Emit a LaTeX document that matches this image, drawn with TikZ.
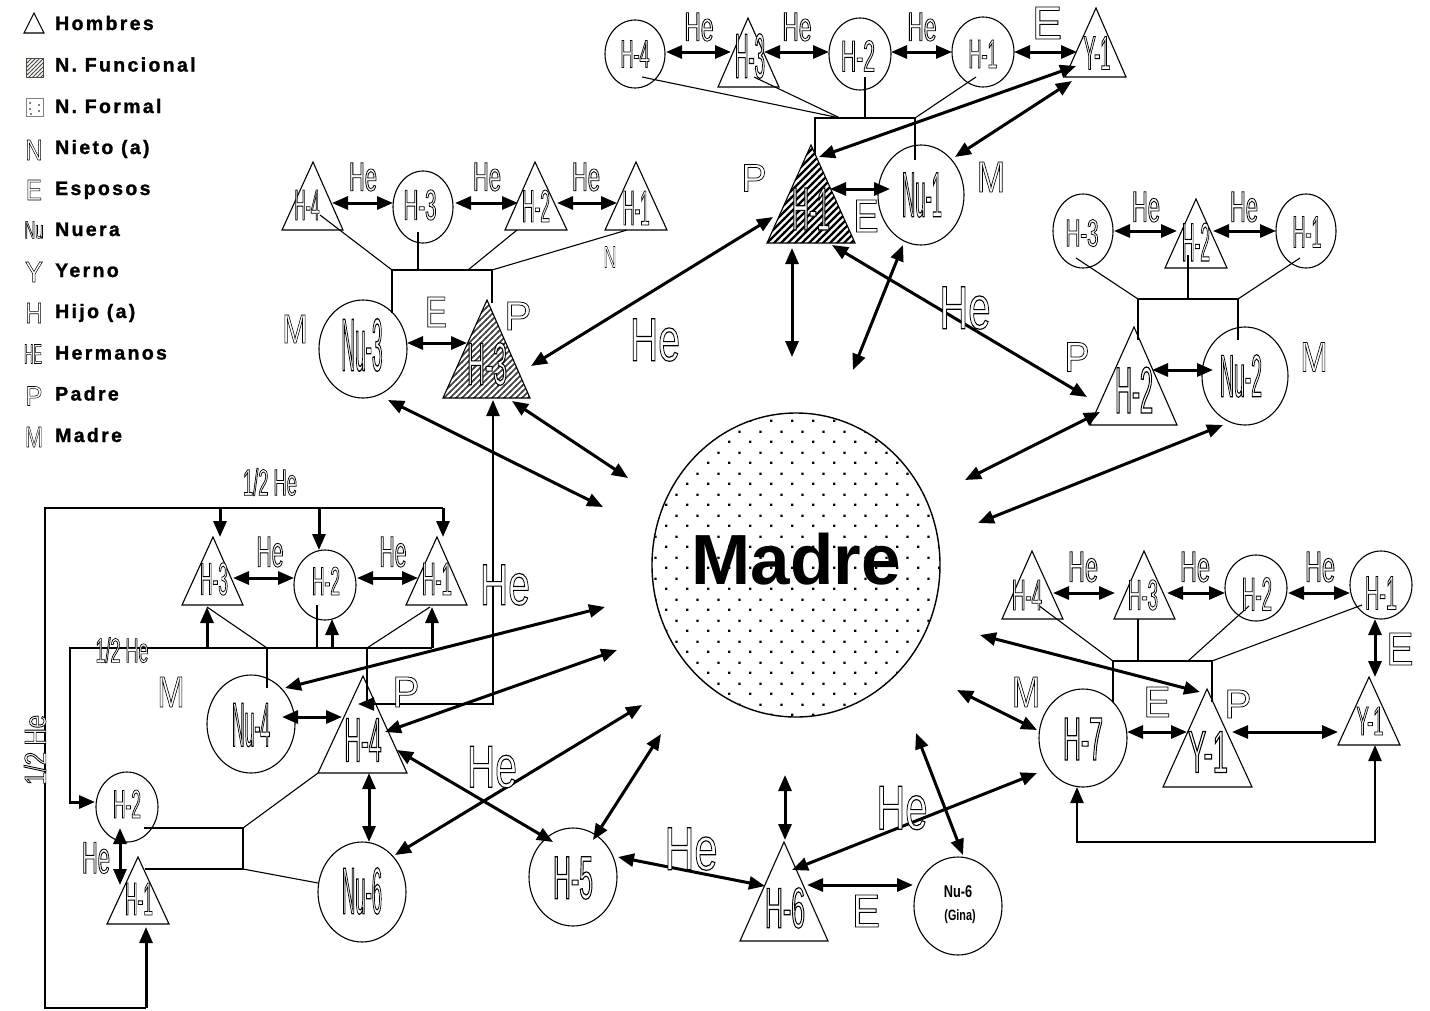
\documentclass[tikz,border=0pt]{standalone}
\usepackage{fontspec}
\usepackage{graphicx}
\setmainfont{Liberation Sans}
\newfontfamily\nf[FakeStretch=0.5]{Liberation Sans}
\newfontfamily\lf{Liberation Sans}
\newfontfamily\legf[LetterSpace=12, FakeBold=1.3]{Liberation Sans Bold}
\usetikzlibrary{arrows.meta,shapes.geometric,patterns}

\newcommand\outl[1]{\special{pdf:literal direct 2 Tr 1 g 0.75 w}#1\special{pdf:literal direct 0 Tr 0 g}}
\newcommand\nt[3]{\resizebox{#1pt}{#2pt}{\nf\fontsize{40}{40}\selectfont\outl{#3}}}
\newcommand\lt[3]{\resizebox{#1pt}{#2pt}{\lf\fontsize{40}{40}\selectfont\outl{#3}}}
\newcommand\conn[5][dar]{\coordinate (#2) at (#3);\coordinate (#4) at (#5);\draw[#1] (#2) -- (#4);}

\pgfdeclarepatternformonly{hatchA}{\pgfqpoint{-1pt}{-1pt}}{\pgfqpoint{8pt}{8pt}}{\pgfqpoint{7pt}{7pt}}{\pgfsetlinewidth{2.2pt}\pgfpathmoveto{\pgfqpoint{-1pt}{-1pt}}\pgfpathlineto{\pgfqpoint{8pt}{8pt}}\pgfusepath{stroke}}
\pgfdeclarepatternformonly{hatchB}{\pgfqpoint{-1pt}{-1pt}}{\pgfqpoint{7pt}{7pt}}{\pgfqpoint{6pt}{6pt}}{\pgfsetlinewidth{1.5pt}\pgfpathmoveto{\pgfqpoint{-1pt}{-1pt}}\pgfpathlineto{\pgfqpoint{7pt}{7pt}}\pgfusepath{stroke}}
\pgfdeclarepatternformonly{hatchC}{\pgfqpoint{-1pt}{-1pt}}{\pgfqpoint{5pt}{5pt}}{\pgfqpoint{4pt}{4pt}}{\pgfsetlinewidth{0.9pt}\pgfpathmoveto{\pgfqpoint{-1pt}{-1pt}}\pgfpathlineto{\pgfqpoint{5pt}{5pt}}\pgfusepath{stroke}}
\pgfdeclarepatternformonly{mdots}{\pgfqpoint{0pt}{0pt}}{\pgfqpoint{20.8pt}{21pt}}{\pgfqpoint{20.8pt}{21pt}}{\pgfpathrectangle{\pgfqpoint{0pt}{0pt}}{\pgfqpoint{2.4pt}{2.4pt}}\pgfpathrectangle{\pgfqpoint{10.4pt}{10.5pt}}{\pgfqpoint{2.4pt}{2.4pt}}\pgfusepath{fill}}

\tikzset{
  thn/.style={line width=1.1pt},
  brk/.style={line width=1.5pt},
  shp/.style={draw, line width=1.1pt},
  ell/.style={ellipse, draw, line width=1.1pt, inner sep=0pt},
  tx/.style={inner sep=0pt},
  dar/.style={line width=3pt, {Triangle[length=16pt,width=13pt]}-{Triangle[length=16pt,width=13pt]}},
  sar/.style={line width=3pt, -{Triangle[length=16pt,width=13pt]}},
  legt/.style={anchor=base west, inner sep=0pt, font=\legf\fontsize{19.5}{19.5}\selectfont}
}

\begin{document}
\begin{tikzpicture}[x=1pt,y=-1pt]
\fill[white] (0,0) rectangle (1430,1010);
\useasboundingbox (0,0) rectangle (1430,1010);

% ---------------- legend
\draw[shp] (24,33) -- (34,13) -- (44,33) -- cycle;
\draw[line width=0.8pt, draw=black!60!olive, pattern=hatchC, pattern color=black!70] (26,58) rectangle (43,77);
\draw[line width=0.6pt, draw=black!50] (26,98) rectangle (43,116);
\foreach \p in {(30,103),(39,105),(30,109),(39,111),(31,114)} \fill \p circle (0.9);
\node[tx] (lgN) at (34,150) {\lt{17}{20}{N}};
\node[tx] (lgE) at (34,190) {\lt{16}{20}{E}};
\node[tx] (lgNu) at (34,230) {\nt{19}{17}{Nu}};
\node[tx] (lgY) at (34,272) {\lt{18}{20}{Y}};
\node[tx] (lgH) at (34,313) {\lt{17}{20}{H}};
\node[tx] (lgHE) at (33,354) {\nt{18}{19}{HE}};
\node[tx] (lgP) at (34,396) {\lt{17}{19}{P}};
\node[tx] (lgM) at (34,437) {\lt{18}{20}{M}};
\node[legt] (l1) at (55,30) {Hombres};
\node[legt] (l2) at (55,71.5) {N. Funcional};
\node[legt] (l3) at (55,113) {N. Formal};
\node[legt] (l4) at (55,154) {Nieto (a)};
\node[legt] (l5) at (55,195) {Esposos};
\node[legt] (l6) at (55,236) {Nuera};
\node[legt] (l7) at (55,277) {Yerno};
\node[legt] (l8) at (55,318) {Hijo (a)};
\node[legt] (l9) at (55,359.5) {Hermanos};
\node[legt] (l10) at (55,400.5) {Padre};
\node[legt] (l11) at (55,442) {Madre};

% ---------------- Madre
\node[ell, line width=1.4pt, minimum width=288pt, minimum height=304pt, pattern=mdots] (madre) at (796,565) {};
\node[tx] (madret) at (796,559) {\fontsize{71}{71}\selectfont\bfseries Madre};

% ---------------- top cluster
\node[ell, minimum width=60pt, minimum height=68pt] (tH4) at (635,54) {};
\draw[shp] (718,87) -- (748,18) -- (779,87) -- cycle;
\node[ell, minimum width=62pt, minimum height=72pt] (tH2) at (860,54) {};
\node[ell, minimum width=62pt, minimum height=70pt] (tH1) at (983,52) {};
\draw[shp] (1065,77) -- (1096,8) -- (1126,77) -- cycle;
\draw[thn] (642,77) -- (840,118);
\draw[thn] (754,77) -- (840,118);
\draw[thn] (865,77) -- (865,118);
\draw[thn] (976,77) -- (915,118);
\draw[thn] (815,155) -- (815,118) -- (915,118) -- (915,160);
\draw[shp, pattern=hatchA] (767,243) -- (811,145) -- (855,243) -- cycle;
\node[ell, minimum width=86pt, minimum height=100pt] (tNu1) at (921,195) {};
\conn{a1s}{666,52}{a1e}{731,52}
\conn{a2s}{764,52}{a2e}{829,52}
\conn{a3s}{891,52}{a3e}{952,52}
\conn{a4s}{1014,52}{a4e}{1077,52}
\conn{a5s}{830,189}{a5e}{890,189}
\conn{a6s}{1076,66}{a6e}{819,157}
\conn{a7s}{1072,81}{a7e}{955,157}
\conn{a8s}{773,217}{a8e}{531,366}
\conn{a9s}{792,248}{a9e}{792,357}
\conn{a10s}{903,245}{a10e}{853,370}
\conn{a11s}{832,245}{a11e}{1087,397}
\node[tx] (tH4t) at (635,54) {\nt{29}{27}{H-4}};
\node[tx] (tH3t) at (750,56) {\nt{30}{44}{H-3}};
\node[tx] (tH2t) at (858,56) {\nt{34}{31}{H-2}};
\node[tx] (tH1t) at (983,54) {\nt{29}{28}{H-1}};
\node[tx] (tY1t) at (1097,53) {\nt{27}{33}{Y-1}};
\node[tx] (tHe1) at (699,27) {\nt{29}{28}{He}};
\node[tx] (tHe2) at (797,27) {\nt{29}{28}{He}};
\node[tx] (tHe3) at (922,27) {\nt{29}{28}{He}};
\node[tx] (tE1) at (1047,23) {\lt{30}{32}{E}};
\node[tx] (hH1t) at (811,209) {\nt{38}{42}{H-1}};
\node[tx] (tNu1t) at (922,195) {\nt{40}{44}{Nu-1}};
\node[tx] (tP) at (754,178) {\lt{25}{27}{P}};
\node[tx] (tM) at (991,177) {\lt{28}{30}{M}};
\node[tx] (tE2) at (866,216) {\lt{25}{32}{E}};
\node[tx] (bigHe1) at (655,340) {\lt{50}{42}{He}};
\node[tx] (bigHe2) at (965,308) {\lt{51}{42}{He}};

% ---------------- left upper cluster
\draw[shp] (282,230) -- (313,162) -- (343,230) -- cycle;
\node[ell, minimum width=60pt, minimum height=72pt] (lH3) at (423,207) {};
\draw[shp] (505,230) -- (535,162) -- (567,230) -- cycle;
\draw[shp] (605,230) -- (636,162) -- (667,230) -- cycle;
\draw[thn] (320,215) -- (392,270);
\draw[thn] (418,232) -- (418,270);
\draw[thn] (517,230) -- (468,270);
\draw[thn] (627,230) -- (492,270);
\draw[thn] (392,313) -- (392,270) -- (492,270) -- (492,303);
\node[ell, minimum width=88pt, minimum height=98pt] (lNu3) at (363,349) {};
\draw[shp, pattern=hatchB, pattern color=black!75] (443,398) -- (487,300) -- (530,398) -- cycle;
\conn{c1s}{332,203}{c1e}{393,203}
\conn{c2s}{455,203}{c2e}{518,203}
\conn{c3s}{557,203}{c3e}{617,203}
\conn{c4s}{407,343}{c4e}{467,343}
\conn{c5s}{388,400}{c5e}{603,507}
\conn{c6s}{512,401}{c6e}{628,478}
\coordinate (c7s) at (493,400);
\coordinate (c7m) at (493,704);
\coordinate (c7e) at (358,704);
\draw[dar, line width=2.4pt] (c7s) -- (c7m) -- (c7e);
\node[tx] (lH4t) at (307,205) {\nt{25}{30}{H-4}};
\node[tx] (lH3t) at (420,205) {\nt{33}{30}{H-3}};
\node[tx] (lH2t) at (536,206) {\nt{28}{32}{H-2}};
\node[tx] (lH1t) at (636,208) {\nt{27}{34}{H-1}};
\node[tx] (lHe1) at (363,177) {\nt{28}{28}{He}};
\node[tx] (lHe2) at (487,177) {\nt{28}{28}{He}};
\node[tx] (lHe3) at (586,177) {\nt{28}{28}{He}};
\node[tx] (lN) at (610,257) {\lt{13}{21}{N}};
\node[tx] (lNu3t) at (362,345) {\nt{41}{52}{Nu-3}};
\node[tx] (hH3t) at (487,364) {\nt{40}{42}{H-3}};
\node[tx] (lM) at (295,329) {\lt{25}{28}{M}};
\node[tx] (lE) at (436,312) {\lt{22}{30}{E}};
\node[tx] (lP) at (518,316) {\lt{27}{28}{P}};

% ---------------- lower left cluster
\draw[brk] (146,1008) -- (45,1008) -- (45,508) -- (443,508);
\conn[sar]{b1s}{220,508}{b1e}{220,537}
\conn[sar]{b2s}{319,508}{b2e}{319,550}
\conn[sar]{b3s}{443,508}{b3e}{443,537}
\conn[sar]{b4s}{146,1008}{b4e}{146,927}
\draw[brk] (70,802) -- (70,648) -- (432,648);
\conn[sar]{b5s}{69,802}{b5e}{95,802}
\conn[sar]{b6s}{207,648}{b6e}{207,607}
\conn[sar]{b7s}{332,648}{b7e}{332,619}
\conn[sar]{b8s}{432,648}{b8e}{432,607}
\draw[thn] (207,607) -- (267,648);
\draw[thn] (317,605) -- (317,648);
\draw[thn] (430,607) -- (367,648);
\draw[thn] (267,648) -- (267,688);
\draw[thn] (367,648) -- (367,707);
\draw[shp] (182,605) -- (213,537) -- (243,605) -- cycle;
\node[ell, minimum width=62pt, minimum height=70pt] (llH2) at (325,585) {};
\draw[shp] (406,605) -- (437,537) -- (467,605) -- cycle;
\node[ell, minimum width=88pt, minimum height=98pt] (lNu4) at (251,724) {};
\draw[shp] (318,773) -- (363,676) -- (407,773) -- cycle;
\node[ell, minimum width=62pt, minimum height=70pt] (fH2) at (127,807) {};
\draw[shp] (107,924) -- (138,857) -- (169,924) -- cycle;
\draw[thn] (144,828) -- (243,828) -- (243,869) -- (145,869);
\draw[thn] (243,828) -- (318,773);
\draw[thn] (243,869) -- (318,883);
\node[ell, minimum width=88pt, minimum height=100pt] (lNu6) at (362,892) {};
\conn{d1s}{233,578}{d1e}{294,578}
\conn{d2s}{357,578}{d2e}{418,578}
\conn{d3s}{282,717}{d3e}{342,717}
\conn{d4s}{369,773}{d4e}{369,842}
\conn{d5s}{120,828}{d5e}{120,885}
\conn{d6s}{285,688}{d6e}{605,607}
\conn{d7s}{385,732}{d7e}{617,650}
\conn{d8s}{395,855}{d8e}{642,705}
\conn{d9s}{397,750}{d9e}{553,842}
\conn{d10s}{593,840}{d10e}{661,734}
\node[tx] (hhe1) at (270,482) {\nt{54}{27}{1/2 He}};
\node[tx] (hhe2) at (122,650) {\nt{53}{25}{1/2 He}};
\node[tx, rotate=90] (hhe3) at (35,750) {\nt{70}{22}{1/2 He}};
\node[tx] (llH3t) at (214,579) {\nt{28}{32}{H-3}};
\node[tx] (llH2t) at (326,581) {\nt{28}{28}{H-2}};
\node[tx] (llH1t) at (437,579) {\nt{30}{32}{H-1}};
\node[tx] (llHe1) at (270,552) {\nt{27}{30}{He}};
\node[tx] (llHe2) at (393,552) {\nt{27}{30}{He}};
\node[tx] (lNu4t) at (251,725) {\nt{38}{43}{Nu-4}};
\node[tx] (llH4t) at (363,740) {\nt{37}{43}{H-4}};
\node[tx] (llM) at (171,692) {\lt{27}{30}{M}};
\node[tx] (llP) at (406,692) {\lt{27}{30}{P}};
\node[tx] (fH2t) at (127,804) {\nt{28}{28}{H-2}};
\node[tx] (fH1t) at (139,899) {\nt{28}{32}{H-1}};
\node[tx] (fHe) at (96,858) {\nt{28}{31}{He}};
\node[tx] (lNu6t) at (362,891) {\nt{40}{46}{Nu-6}};
\node[tx] (bigHe3) at (492,767) {\lt{50}{41}{He}};
\node[tx] (bigHe4) at (505,585) {\lt{50}{40}{He}};

% ---------------- lower middle
\node[ell, minimum width=88pt, minimum height=98pt] (mH5) at (573,877) {};
\draw[shp] (740,941) -- (784,842) -- (828,941) -- cycle;
\node[ell, minimum width=88pt, minimum height=98pt] (mNuG) at (958,906) {};
\conn{e1s}{618,857}{e1e}{765,886}
\conn{e2s}{807,885}{e2e}{913,885}
\conn{e3s}{785,775}{e3e}{785,840}
\conn{e4s}{792,870}{e4e}{1037,773}
\conn{e5s}{963,855}{e5e}{916,733}
\node[tx] (mH5t) at (573,878) {\nt{40}{42}{H-5}};
\node[tx] (mH6t) at (785,908) {\nt{40}{40}{H-6}};
\node[tx] (mNuGt1) at (958,892) {\scalebox{0.75}[1]{\fontsize{17}{17}\selectfont\bfseries Nu-6}};
\node[tx] (mNuGt2) at (960,917) {\scalebox{0.72}[1]{\fontsize{15}{15}\selectfont\bfseries (Gina)}};
\node[tx] (mHe1) at (691,849) {\lt{53}{42}{He}};
\node[tx] (mE) at (866,911) {\lt{28}{32}{E}};
\node[tx] (mHe2) at (902,808) {\lt{51}{43}{He}};

% ---------------- lower right cluster
\draw[shp] (1002,619) -- (1032,551) -- (1063,619) -- cycle;
\draw[shp] (1114,619) -- (1144,551) -- (1175,619) -- cycle;
\node[ell, minimum width=62pt, minimum height=66pt] (rrH2) at (1256,588) {};
\node[ell, minimum width=62pt, minimum height=68pt] (rrH1) at (1381,585) {};
\draw[thn] (1038,605) -- (1113,661);
\draw[thn] (1138,619) -- (1138,661);
\draw[thn] (1249,606) -- (1188,661);
\draw[thn] (1362,605) -- (1212,661);
\draw[thn] (1113,702) -- (1113,661) -- (1212,661) -- (1212,702);
\node[ell, minimum width=88pt, minimum height=98pt] (rrH7) at (1083,738) {};
\draw[shp] (1163,787) -- (1207,689) -- (1252,787) -- cycle;
\draw[shp] (1338,745) -- (1369,677) -- (1400,745) -- cycle;
\conn{f1s}{1053,593}{f1e}{1115,593}
\conn{f2s}{1167,593}{f2e}{1225,593}
\conn{f3s}{1288,593}{f3e}{1350,593}
\conn{f4s}{1127,732}{f4e}{1187,732}
\conn{f5s}{1232,732}{f5e}{1338,732}
\conn{f6s}{1375,619}{f6e}{1375,677}
\conn{f7s}{980,635}{f7e}{1200,692}
\conn{f8s}{957,690}{f8e}{1037,730}
\coordinate (f9s) at (1077,787);
\coordinate (f9a) at (1077,842);
\coordinate (f9b) at (1375,842);
\coordinate (f9e) at (1375,745);
\draw[dar, line width=2.2pt] (f9s) -- (f9a) -- (f9b) -- (f9e);
\node[tx] (rrH4t) at (1027,595) {\nt{30}{30}{H-4}};
\node[tx] (rrH3t) at (1143,595) {\nt{30}{30}{H-3}};
\node[tx] (rrH2t) at (1257,594) {\nt{30}{33}{H-2}};
\node[tx] (rrH1t) at (1381,593) {\nt{32}{33}{H-1}};
\node[tx] (rrHe1) at (1083,567) {\nt{30}{30}{He}};
\node[tx] (rrHe2) at (1195,567) {\nt{30}{30}{He}};
\node[tx] (rrHe3) at (1320,567) {\nt{30}{30}{He}};
\node[tx] (rrH7t) at (1083,739) {\nt{40}{42}{H-7}};
\node[tx] (rrY1t) at (1208,752) {\nt{40}{41}{Y-1}};
\node[tx] (rrY2t) at (1370,721) {\nt{27}{28}{Y-1}};
\node[tx] (rrE1) at (1400,649) {\lt{27}{32}{E}};
\node[tx] (rrE2) at (1157,702) {\lt{27}{30}{E}};
\node[tx] (rrM) at (1026,692) {\lt{28}{30}{M}};
\node[tx] (rrP) at (1238,704) {\lt{27}{28}{P}};

% ---------------- upper right cluster
\node[ell, minimum width=60pt, minimum height=74pt] (rH3) at (1083,231) {};
\draw[shp] (1165,268) -- (1196,199) -- (1227,268) -- cycle;
\node[ell, minimum width=60pt, minimum height=74pt] (rH1) at (1306,231) {};
\draw[thn] (1076,258) -- (1138,299);
\draw[thn] (1188,255) -- (1188,299);
\draw[thn] (1300,258) -- (1238,299);
\draw[thn] (1138,340) -- (1138,299) -- (1238,299) -- (1238,340);
\draw[shp] (1090,425) -- (1134,327) -- (1177,425) -- cycle;
\node[ell, minimum width=86pt, minimum height=98pt] (rNu2) at (1245,376) {};
\conn{g1s}{1114,231}{g1e}{1177,231}
\conn{g2s}{1213,231}{g2e}{1276,231}
\conn{g3s}{1152,370}{g3e}{1213,370}
\conn{g4s}{965,480}{g4e}{1100,412}
\conn{g5s}{978,523}{g5e}{1223,425}
\node[tx] (rH3t) at (1082,233) {\nt{33}{27}{H-3}};
\node[tx] (rH2t) at (1196,242) {\nt{28}{38}{H-2}};
\node[tx] (rH1t) at (1307,232) {\nt{29}{31}{H-1}};
\node[tx] (rHe1) at (1146,207) {\nt{28}{30}{He}};
\node[tx] (rHe2) at (1244,207) {\nt{28}{30}{He}};
\node[tx] (rH2Pt) at (1134,390) {\nt{38}{46}{H-2}};
\node[tx] (rNu2t) at (1241,376) {\nt{42}{42}{Nu-2}};
\node[tx] (rP) at (1077,357) {\lt{25}{29}{P}};
\node[tx] (rM) at (1314,357) {\lt{27}{29}{M}};
\end{tikzpicture}
\end{document}
